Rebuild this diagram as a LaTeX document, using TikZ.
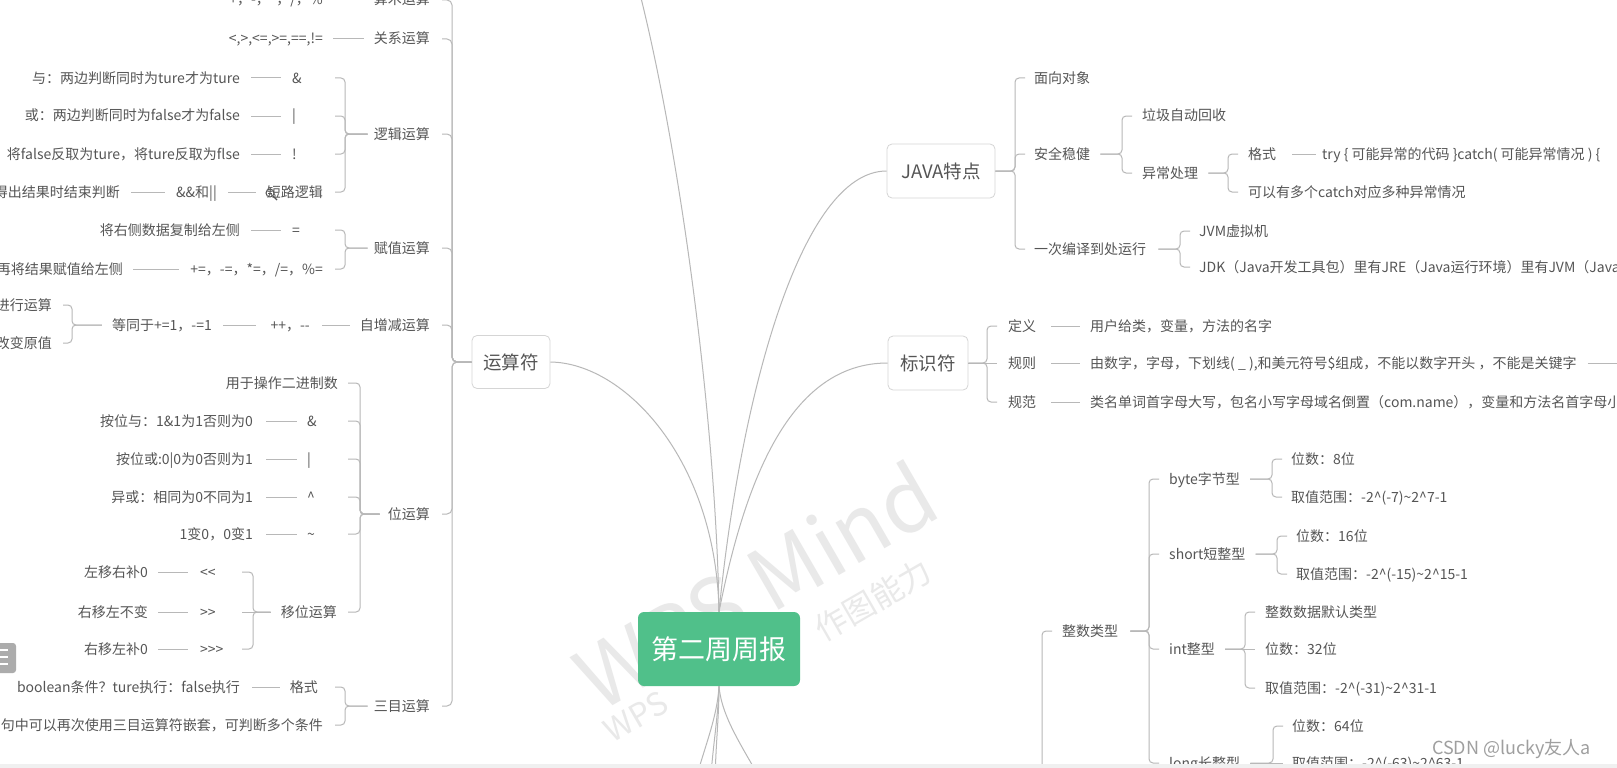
\documentclass[tikz,border=0pt]{standalone}
\usepackage{fontspec}
\setmainfont{Noto Sans CJK SC}
\newfontfamily\fL{Noto Sans CJK SC}
\definecolor{lc}{HTML}{B8B8B8}
\definecolor{tc}{HTML}{555555}
\definecolor{bc}{HTML}{D5D5D5}
\definecolor{rootg}{HTML}{50C08A}
\definecolor{wm}{HTML}{E9E9E9}
\tikzset{
  conn/.style={draw=lc, line width=1pt},
  tl/.style={inner sep=0pt, text=tc, font=\fL\fontsize{14}{16}\selectfont, text height=12pt, text depth=2pt},
  mbox/.style={draw=bc, fill=white, rounded corners=5pt, line width=0.8pt, text=tc, inner sep=0pt, font=\fL\fontsize{18.5}{20}\selectfont},
}
% bracket: parent anchor, bracket x coord, hook x coord, child anchor, start gap
\newcommand\brk[5]{\draw[conn,rounded corners=4pt,shorten <=#5] (#1) -- (#1 -| #2) |- (#4 -| #3);}
\begin{document}
\begin{tikzpicture}[x=1pt,y=-1pt]
\useasboundingbox (0,0) rectangle (1617,768);
\fill[white] (0,0) rectangle (1617,768);

% watermark
\node[rotate=30, text=wm, font=\fL\fontsize{86}{90}\selectfont] (wm1) at (755,585) {WPS Mind};
\node[rotate=30, text=wm, font=\fL\fontsize{32}{36}\selectfont] (wm2) at (636,717) {WPS};
\node[rotate=30, text=wm, font=\fL\fontsize{32}{36}\selectfont] (wm3) at (873,600) {作图能力};

% ===== central nodes
\node[mbox, minimum width=78pt, minimum height=53pt] (ysf) at (511,362) {运算符};
\node[mbox, minimum width=108pt, minimum height=54pt] (java) at (941,171) {JAVA特点};
\node[mbox, minimum width=80pt, minimum height=54pt] (bsf) at (928,363) {标识符};
\node[fill=rootg, rounded corners=6pt, minimum width=162pt, minimum height=74pt, inner sep=0pt, text=white, font=\fL\fontsize{27}{30}\selectfont] (root) at (719,649) {第二周周报};

\coordinate (topB) at (638,-14);
\coordinate (b1) at (693,790);
\coordinate (b2) at (710,790);
\coordinate (b3) at (715,790);
\coordinate (b4) at (772,800);
\draw[conn] (root.north) .. controls (716,460) and (625,363) .. (ysf.east);
\draw[conn] (root.north) .. controls (716,420) and (680,150) .. (topB);
\draw[conn] (root.north) .. controls (740,400) and (800,171) .. (java.west);
\draw[conn] (root.north) .. controls (745,480) and (790,363) .. (bsf.west);
\draw[conn] (root.south) .. controls (717,720) and (703,750) .. (b1);
\draw[conn] (root.south) .. controls (718,720) and (712,750) .. (b2);
\draw[conn] (root.south) .. controls (719,720) and (715,750) .. (b3);
\draw[conn] (root.south) .. controls (722,720) and (745,750) .. (b4);

% ===== left: operators
\node[tl,anchor=east] (arith) at (430,0) {算术运算};
\node[tl,anchor=east] (rel) at (430,39) {关系运算};
\node[tl,anchor=east] (logic) at (430,134) {逻辑运算};
\node[tl,anchor=east] (assign) at (430,248) {赋值运算};
\node[tl,anchor=east] (incdec) at (430,325) {自增减运算};
\node[tl,anchor=east] (bit) at (430,514) {位运算};
\node[tl,anchor=east] (tern) at (430,706) {三目运算};
\coordinate (vM) at (452,0); \coordinate (hM) at (442,0);
\foreach \n in {arith,rel,logic,assign,incdec,bit,tern}
  {\draw[conn,rounded corners=5pt] (ysf.west) -- (ysf.west -| vM) |- (\n.east -| hM);}

\node[tl,anchor=east] (arithL) at (323,0) {+，-，*，/，\%};
\node[tl,anchor=east] (relL) at (323,39) {<,>,<=,>=,==,!=};
\draw[conn,shorten <=10pt,shorten >=10pt] (arithL) -- (arith);
\draw[conn,shorten <=10pt,shorten >=10pt] (relL) -- (rel);

% logic
\node[tl,anchor=west] (andO) at (292,78) {\&};
\node[tl,anchor=west] (orO) at (292,116) {|};
\node[tl,anchor=west] (notO) at (292,154) {!};
\node[tl,anchor=east] (shortO) at (323,192) {短路逻辑};
\node[tl,anchor=east] (andL) at (240,78) {与：两边判断同时为ture才为ture};
\node[tl,anchor=east] (orL) at (240,116) {或：两边判断同时为false才为false};
\node[tl,anchor=east] (notL) at (240,154) {将false反取为ture，将ture反取为flse};
\node[tl,anchor=east] (ssO) at (217,192) {\&\&和||};
\node[tl,anchor=east] (ssL) at (120,192) {得出结果时结束判断};
\coordinate (bxA) at (345,0); \coordinate (hkA) at (335,0);
\foreach \c in {andO,orO,notO,shortO} {\brk{logic.west}{bxA}{hkA}{\c.east}{6pt}}
\draw[conn,shorten <=11pt,shorten >=11pt] (andL) -- (andO);
\draw[conn,shorten <=11pt,shorten >=11pt] (orL) -- (orO);
\draw[conn,shorten <=11pt,shorten >=11pt] (notL) -- (notO);
\draw[conn,shorten <=11pt,shorten >=11pt] (ssO) -- (shortO);
\draw[conn,shorten <=11pt,shorten >=11pt] (ssL) -- (ssO);

% assign
\node[tl,anchor=west] (eqO) at (292,230) {=};
\node[tl,anchor=east] (opeqO) at (323,269) {+=，-=，*=，/=，\%=};
\node[tl,anchor=east] (eqL) at (240,230) {将右侧数据复制给左侧};
\node[tl,anchor=east] (opeqL) at (123,269) {再将结果赋值给左侧};
\foreach \c in {eqO,opeqO} {\brk{assign.west}{bxA}{hkA}{\c.east}{6pt}}
\draw[conn,shorten <=11pt,shorten >=11pt] (eqL) -- (eqO);
\draw[conn,shorten <=10pt,shorten >=11pt] (opeqL) -- (opeqO);

% increment
\node[tl,anchor=east] (ppO) at (310,325) {++，-\kern0pt-};
\node[tl,anchor=east] (eqv) at (212,325) {等同于+=1，-=1};
\node[tl,anchor=east] (preL) at (52,305) {进行运算};
\node[tl,anchor=east] (postL) at (52,343) {改变原值};
\draw[conn,shorten <=12pt,shorten >=10pt] (ppO) -- (incdec);
\draw[conn,shorten <=11pt,shorten >=14pt] (eqv) -- (ppO);
\coordinate (bxB) at (72,0); \coordinate (hkB) at (63,0);
\foreach \c in {preL,postL} {\brk{eqv.west}{bxB}{hkB}{\c.east}{10pt}}

% bit
\node[tl,anchor=east] (binL) at (338,383) {用于操作二进制数};
\node[tl,anchor=west] (bandO) at (307,421) {\&};
\node[tl,anchor=west] (borO) at (307,459) {|};
\node[tl,anchor=west] (bxorO) at (307,497) {\textasciicircum};
\node[tl,anchor=west] (bnotO) at (307,534) {\textasciitilde};
\node[tl,anchor=east] (shiftO) at (337,612) {移位运算};
\node[tl,anchor=east] (bandL) at (253,421) {按位与：1\&1为1否则为0};
\node[tl,anchor=east] (borL) at (253,459) {按位或:0|0为0否则为1};
\node[tl,anchor=east] (bxorL) at (253,497) {异或：相同为0不同为1};
\node[tl,anchor=east] (bnotL) at (253,534) {1变0，0变1};
\coordinate (bxC) at (360,0); \coordinate (hkC) at (348,0);
\foreach \c in {binL,bandO,borO,bxorO,bnotO,shiftO} {\brk{bit.west}{bxC}{hkC}{\c.east}{8pt}}
\draw[conn,shorten <=13pt,shorten >=10pt] (bandL) -- (bandO);
\draw[conn,shorten <=13pt,shorten >=10pt] (borL) -- (borO);
\draw[conn,shorten <=13pt,shorten >=10pt] (bxorL) -- (bxorO);
\draw[conn,shorten <=13pt,shorten >=10pt] (bnotL) -- (bnotO);

% shift
\node[tl,anchor=west] (shlO) at (200,572) {<\kern0pt<};
\node[tl,anchor=west] (shrO) at (200,612) {>\kern0pt>};
\node[tl,anchor=west] (ushrO) at (200,649) {>\kern0pt>\kern0pt>};
\node[tl,anchor=east] (shlL) at (148,572) {左移右补0};
\node[tl,anchor=east] (shrL) at (148,612) {右移左不变};
\node[tl,anchor=east] (ushrL) at (148,649) {右移左补0};
\coordinate (bxD) at (253,0); \coordinate (hkD) at (242,0);
\foreach \c in {shlO,ushrO} {\brk{shiftO.west}{bxD}{hkD}{\c.east}{10pt}}
\draw[conn,shorten <=10pt] (shiftO.west) -- (shrO.east -| hkD);
\draw[conn,shorten <=10pt,shorten >=12pt] (shlL) -- (shlO);
\draw[conn,shorten <=10pt,shorten >=12pt] (shrL) -- (shrO);
\draw[conn,shorten <=10pt,shorten >=12pt] (ushrL) -- (ushrO);

% ternary
\node[tl,anchor=east] (fmtO) at (318,687) {格式};
\node[tl,anchor=east] (nestL) at (323,725) {句中可以再次使用三目运算符嵌套，可判断多个条件};
\node[tl,anchor=east] (fmtL) at (240,687) {boolean条件？ture执行：false执行};
\foreach \c in {fmtO,nestL} {\brk{tern.west}{bxA}{hkA}{\c.east}{6pt}}
\draw[conn,shorten <=12pt,shorten >=10pt] (fmtL) -- (fmtO);

% ===== right: JAVA
\node[tl,anchor=west] (oo) at (1034,78) {面向对象};
\node[tl,anchor=west] (safe) at (1034,154) {安全稳健};
\node[tl,anchor=west] (once) at (1034,249) {一次编译到处运行};
\coordinate (bxE) at (1015,0); \coordinate (hkE) at (1025,0);
\foreach \c in {oo,safe,once} {\brk{java.east}{bxE}{hkE}{\c.west}{0pt}}
\node[tl,anchor=west] (gc) at (1142,116) {垃圾自动回收};
\node[tl,anchor=west] (exc) at (1142,173) {异常处理};
\coordinate (bxF) at (1122,0); \coordinate (hkF) at (1132,0);
\foreach \c in {gc,exc} {\brk{safe.east}{bxF}{hkF}{\c.west}{10pt}}
\node[tl,anchor=west] (fmt2) at (1248,154) {格式};
\node[tl,anchor=west] (multi) at (1248,192) {可以有多个catch对应多种异常情况};
\node[tl,anchor=west] (trycode) at (1322,154) {try \{ 可能异常的代码 \}catch( 可能异常情况 ) \{};
\coordinate (bxG) at (1228,0); \coordinate (hkG) at (1238,0);
\foreach \c in {fmt2,multi} {\brk{exc.east}{bxG}{hkG}{\c.west}{10pt}}
\draw[conn,shorten <=16pt,shorten >=6pt] (fmt2) -- (trycode);
\node[tl,anchor=west] (jvm) at (1199,231) {JVM虚拟机};
\node[tl,anchor=west] (jdk) at (1199,267) {JDK（Java开发工具包）里有JRE（Java运行环境）里有JVM（Java虚拟机）};
\coordinate (bxH) at (1180,0); \coordinate (hkH) at (1190,0);
\foreach \c in {jvm,jdk} {\brk{once.east}{bxH}{hkH}{\c.west}{12pt}}

% ===== right: identifiers
\node[tl,anchor=west] (def) at (1008,326) {定义};
\node[tl,anchor=west] (rule) at (1008,363) {规则};
\node[tl,anchor=west] (norm) at (1008,402) {规范};
\coordinate (bxJ) at (987,0); \coordinate (hkJ) at (997,0);
\foreach \c in {def,norm} {\brk{bsf.east}{bxJ}{hkJ}{\c.west}{0pt}}
\draw[conn] (bsf.east) -- (rule.west -| hkJ);
\node[tl,anchor=west] (defL) at (1090,326) {用户给类，变量，方法的名字};
\node[tl,anchor=west] (ruleL) at (1090,363) {由数字，字母，下划线( \_ ),和美元符号\$组成，不能以数字开头 ，不能是关键字};
\node[tl,anchor=west] (normL) at (1090,402) {类名单词首字母大写，包名小写字母域名倒置（com.name），变量和方法名首字母小写};
\draw[conn,shorten <=15pt,shorten >=10pt] (def) -- (defL);
\draw[conn,shorten <=15pt,shorten >=10pt] (rule) -- (ruleL);
\draw[conn,shorten <=15pt,shorten >=10pt] (norm) -- (normL);
\coordinate (ruleR) at (1640,363);
\draw[conn,shorten <=11pt] (ruleL) -- (ruleR);

% ===== right: integer types
\node[tl,anchor=west] (intT) at (1062,631) {整数类型};
\coordinate (dtype) at (1042,800);
\draw[conn,rounded corners=4pt,shorten >=10pt] (dtype) |- (intT.west);
\node[tl,anchor=west] (byteT) at (1169,479) {byte字节型};
\node[tl,anchor=west] (shortT) at (1169,554) {short短整型};
\node[tl,anchor=west] (intN) at (1169,649) {int整型};
\node[tl,anchor=west] (longT) at (1169,763) {long长整型};
\coordinate (bxK) at (1149,0); \coordinate (hkK) at (1159,0);
\foreach \c in {byteT,shortT,intN,longT} {\brk{intT.east}{bxK}{hkK}{\c.west}{12pt}}

\node[tl,anchor=west] (b8) at (1291,459) {位数：8位};
\node[tl,anchor=west] (br) at (1291,497) {取值范围：-2\textasciicircum(-7)\textasciitilde2\textasciicircum7-1};
\coordinate (bxL) at (1272,0); \coordinate (hkL) at (1282,0);
\foreach \c in {b8,br} {\brk{byteT.east}{bxL}{hkL}{\c.west}{10pt}}

\node[tl,anchor=west] (s16) at (1296,536) {位数：16位};
\node[tl,anchor=west] (sr) at (1296,574) {取值范围：-2\textasciicircum(-15)\textasciitilde2\textasciicircum15-1};
\coordinate (bxM) at (1277,0); \coordinate (hkM) at (1287,0);
\foreach \c in {s16,sr} {\brk{shortT.east}{bxM}{hkM}{\c.west}{10pt}}

\node[tl,anchor=west] (idef) at (1265,612) {整数数据默认类型};
\node[tl,anchor=west] (i32) at (1265,649) {位数：32位};
\node[tl,anchor=west] (ir) at (1265,688) {取值范围：-2\textasciicircum(-31)\textasciitilde2\textasciicircum31-1};
\coordinate (bxN) at (1245,0); \coordinate (hkN) at (1255,0);
\foreach \c in {idef,ir} {\brk{intN.east}{bxN}{hkN}{\c.west}{10pt}}
\draw[conn,shorten <=10pt] (intN.east) -- (i32.west -| hkN);

\node[tl,anchor=west] (l64) at (1292,726) {位数：64位};
\node[tl,anchor=west] (lr) at (1292,763) {取值范围：-2\textasciicircum(-63)\textasciitilde2\textasciicircum63-1};
\coordinate (bxP) at (1273,0); \coordinate (hkP) at (1283,0);
\brk{longT.east}{bxP}{hkP}{l64.west}{10pt}
\draw[conn,shorten <=10pt] (longT.east) -- (lr.west -| hkP);

% ===== screen details
\node[anchor=west, inner sep=0pt, text=gray!75, font=\fL\fontsize{18}{20}\selectfont] (csdn) at (1432,749) {CSDN @lucky友人a};
\fill[gray!65, rounded corners=3pt] (-6,643) rectangle (16,673);
\draw[white, line width=1.6pt] (0,650) -- (8,650) (0,657) -- (8,657) (0,664) -- (8,664);
\draw[tc, line width=1pt] (270,193) circle (4);
\draw[tc, line width=0.8pt] (268,193) -- (272,193);
\draw[tc, line width=1.4pt] (273,196) -- (277,200);
\fill[black!6] (0,764) rectangle (1617,768);
\end{tikzpicture}
\end{document}
